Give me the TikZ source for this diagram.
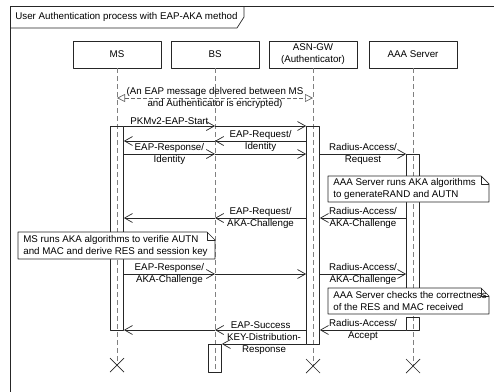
\documentclass[tikz,border=0pt]{standalone}
\usepackage{fontspec}
\setmainfont{Liberation Sans}
\usetikzlibrary{arrows.meta,calc,positioning}
\newcommand\diagfont{\fontsize{9.75}{12}\selectfont}
\tikzset{
  head/.style={draw,minimum width=88pt,minimum height=27pt,inner sep=0pt,align=center},
  lifeline/.style={gray,dash pattern=on 5pt off 3pt,line width=0.7pt},
  bar/.style={draw,minimum width=13pt,inner sep=0pt,anchor=north},
  msg/.style={-{Straight Barb[length=8pt,width=9pt]}},
  encr/.style={gray!80!black,dash pattern=on 4pt off 2pt,{Triangle[open,length=8pt,width=8pt]}-{Triangle[open,length=8pt,width=8pt]}},
  lbl/.style={align=center,inner sep=0pt},
  notetext/.style={anchor=west,align=left,inner sep=0pt}
}
\begin{document}
\begin{tikzpicture}[x=1pt,y=-1pt,line join=round,line width=0.7pt,draw=black!85,
  every node/.style={font=\diagfont}]
\clip (0,0) rectangle (494,391);
% frame and title
\draw (10,6) rectangle (520,420);
\draw (10,28) -- (237,28) -- (244,17) -- (244,6);
\node[anchor=west,inner sep=0pt] (title) at (15,17) {User Authentication process with EAP-AKA method};
% lifeline heads
\node[head] (MS) at (117,54.5) {MS};
\node[head] (BS) at (215,54.5) {BS};
\node[head] (ASN) at (313,54.5) {ASN-GW\\(Authenticator)};
\node[head] (AAA) at (413,54.5) {AAA Server};
% message rows
\foreach \n/\y in {rE/98,r1/126,r2/141,r3/154,r5/218,r6/274,r7/330,r8/344,rA/317,
  rM/365,rB/372,rX/366}
  \coordinate (\n) at (0,\y);
% lifelines
\foreach \l/\e in {MS/rM,BS/rB,ASN/rX,AAA/rX}
  \draw[lifeline] (\l.south) -- (\l.south |- \e);
% activation bars
\node[bar,minimum height=204pt] (msbar) at (MS.south |- r1) {};
\node[bar,minimum height=218pt] (asnbar) at (ASN.south |- r1) {};
\node[bar,minimum height=136pt] (aaabar) at (AAA.south |- r3) {};
\node[bar,minimum height=13pt] (aaabarb) at (AAA.south |- rA) {};
\node[bar,minimum height=28pt] (bsbar) at (BS.south |- r8) {};
% encrypted exchange
\draw[encr] (MS |- rE) -- node[lbl,text=black]{(An EAP message delvered between MS\\and Authenticator is encrypted)} (ASN |- rE);
% messages
\draw[msg] (msbar.east |- r1) -- node[above,inner sep=1pt]{PKMv2-EAP-Start} (BS |- r1);
\draw[msg] (BS |- r1) -- (asnbar.west |- r1);
\draw[msg] (asnbar.west |- r2) -- node[lbl]{EAP-Request/\\Identity} (BS |- r2);
\draw[msg] (BS |- r2) -- (msbar.east |- r2);
\draw[msg] (msbar.east |- r3) -- node[lbl]{EAP-Response/\\Identity} (BS |- r3);
\draw[msg] (BS |- r3) -- (asnbar.west |- r3);
\draw[msg] (asnbar.east |- r3) -- node[lbl]{Radius-Access/\\Request} (aaabar.west |- r3);
\draw[msg] (aaabar.west |- r5) -- node[lbl]{Radius-Access/\\AKA-Challenge} (asnbar.east |- r5);
\draw[msg] (asnbar.west |- r5) -- node[lbl]{EAP-Request/\\AKA-Challenge} (BS |- r5);
\draw[msg] (BS |- r5) -- (msbar.east |- r5);
\draw[msg] (msbar.east |- r6) -- node[lbl]{EAP-Response/\\AKA-Challenge} (BS |- r6);
\draw[msg] (BS |- r6) -- (asnbar.west |- r6);
\draw[msg] (asnbar.east |- r6) -- node[lbl]{Radius-Access/\\AKA-Challenge} (aaabar.west |- r6);
\draw[msg] (aaabarb.west |- r7) -- node[lbl]{Radius-Access/\\Accept} (asnbar.east |- r7);
\draw[msg] (asnbar.west |- r7) -- node[above,inner sep=1pt]{EAP-Success} (BS |- r7);
\draw[msg] (BS |- r7) -- (msbar.east |- r7);
\draw[msg] (asnbar.west |- r8) -- node[lbl]{KEY-Distribution-\\Response} (bsbar.east |- r8);
% notes
\foreach \n/\x/\y/\w/\h in {n1/328/176/161/26,n2/18/232/197/27,n3/328/288/161/26}{
  \coordinate (\n) at (\x,\y);
  \draw[fill=white] (\n) -- ++(\w-8,0) -- ++(8,8) -- ++(0,\h-8) -- ++(-\w,0) -- cycle;
  \draw ($(\n)+(\w-8,0)$) -- ++(0,8) -- ++(8,0);
}
\node[notetext] (t1) at ($(n1)+(5,13)$) {AAA Server runs AKA algorithms\\to generateRAND and AUTN};
\node[notetext] (t2) at ($(n2)+(5,13.5)$) {MS runs AKA algorithms to verifie AUTN\\and MAC and derive RES and session key};
\node[notetext] (t3) at ($(n3)+(5,13)$) {AAA Server checks the correctness\\of the RES and MAC received};
% destruction marks
\foreach \l/\r in {MS/rM,ASN/rX,AAA/rX}
  \draw ($(\l |- \r)+(-7,-7)$) -- ++(14,14) ($(\l |- \r)+(7,-7)$) -- ++(-14,14);
\end{tikzpicture}
\end{document}
